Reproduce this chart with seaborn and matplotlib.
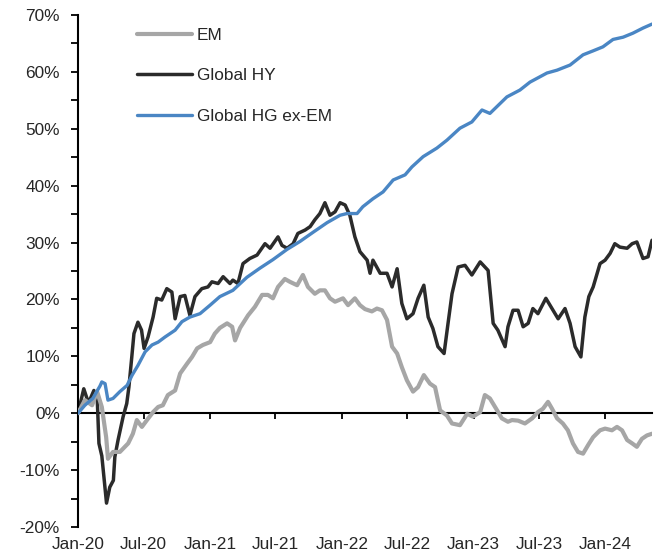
import matplotlib
matplotlib.use('Agg')
import matplotlib.pyplot as plt
import matplotlib.dates as mdates
from matplotlib.ticker import MultipleLocator, FuncFormatter
import seaborn as sns
import pandas as pd

# cumulative returns, in %
em_dates = ['2020-01-01', '2020-01-20', '2020-02-09', '2020-02-23', '2020-03-07', '2020-03-19', '2020-03-24',
            '2020-04-07', '2020-04-26', '2020-05-19', '2020-06-01', '2020-06-12', '2020-06-26', '2020-07-10',
            '2020-07-27', '2020-08-10', '2020-08-23', '2020-09-06', '2020-09-26', '2020-10-10', '2020-10-29',
            '2020-11-12', '2020-11-26', '2020-12-12', '2021-01-01', '2021-01-14', '2021-01-28', '2021-02-17',
            '2021-03-03', '2021-03-11', '2021-03-25', '2021-04-16', '2021-05-05', '2021-05-25', '2021-06-10',
            '2021-06-24', '2021-07-08', '2021-07-27', '2021-08-10', '2021-08-30', '2021-09-15', '2021-09-29',
            '2021-10-18', '2021-11-01', '2021-11-15', '2021-11-29', '2021-12-13', '2022-01-04', '2022-01-18',
            '2022-02-06', '2022-02-20', '2022-03-06', '2022-03-25', '2022-04-08', '2022-04-22', '2022-05-06',
            '2022-05-20', '2022-06-03', '2022-06-16', '2022-06-30', '2022-07-17', '2022-07-31', '2022-08-16',
            '2022-09-02', '2022-09-16', '2022-09-30', '2022-10-19', '2022-11-02', '2022-11-24', '2022-12-14',
            '2022-12-30', '2023-01-19', '2023-02-01', '2023-02-15', '2023-03-07', '2023-03-20', '2023-04-06',
            '2023-04-17', '2023-05-04', '2023-05-23', '2023-06-12', '2023-06-28', '2023-07-12', '2023-07-26',
            '2023-08-06', '2023-08-20', '2023-09-05', '2023-09-19', '2023-10-03', '2023-10-17', '2023-10-31',
            '2023-11-14', '2023-11-28', '2023-12-17', '2023-12-31', '2024-01-19', '2024-02-02', '2024-02-16',
            '2024-03-01', '2024-03-15', '2024-03-28', '2024-04-11', '2024-04-25', '2024-05-09']
em_values = [0, 2.3, 1.4, 3.8, 1.1, -4.2, -8, -6.8, -6.8, -5.3, -3.6, -1.2, -2.4, -1.2,
             0.2, 1.1, 1.4, 3.2, 4.0, 7, 8.7, 9.9, 11.4, 12, 12.5, 14, 15, 15.8,
             15.2, 12.8, 15.0, 17.2, 18.7, 20.8, 20.8, 20.2, 22.2, 23.6, 23.1, 22.5, 24.3, 22.2,
             21, 21.6, 21.6, 20.2, 19.6, 20.2, 19, 20.2, 19, 18.3, 17.9, 18.4, 18.1, 16.4,
             11.7, 10.5, 8.1, 5.8, 3.8, 4.6, 6.7, 5.2, 4.6, 0.5, -0.4, -1.8, -2.1, -0.1,
             -0.6, 0.2, 3.2, 2.6, 0.5, -0.9, -1.5, -1.2, -1.3, -1.8, -0.9, 0.2, 0.8, 2,
             0.8, -0.9, -1.8, -3, -5.3, -6.8, -7.1, -5.6, -4.2, -3, -2.7, -3, -2.4, -3,
             -4.7, -5.3, -5.9, -4.5, -3.9, -3.6]

hy_dates = ['2020-01-01', '2020-01-17', '2020-01-30', '2020-02-14', '2020-02-23', '2020-02-28', '2020-03-07',
            '2020-03-20', '2020-03-29', '2020-04-08', '2020-04-12', '2020-04-21', '2020-05-05', '2020-05-15',
            '2020-05-21', '2020-05-29', '2020-06-04', '2020-06-15', '2020-06-25', '2020-07-02', '2020-07-13',
            '2020-07-27', '2020-08-06', '2020-08-20', '2020-09-03', '2020-09-17', '2020-09-26', '2020-10-10',
            '2020-10-23', '2020-11-06', '2020-11-20', '2020-12-09', '2020-12-26', '2021-01-06', '2021-01-23',
            '2021-02-06', '2021-02-25', '2021-03-05', '2021-03-19', '2021-04-02', '2021-04-21', '2021-05-11',
            '2021-06-02', '2021-06-16', '2021-07-08', '2021-07-19', '2021-08-02', '2021-08-19', '2021-09-01',
            '2021-09-21', '2021-10-05', '2021-10-18', '2021-11-01', '2021-11-15', '2021-11-29', '2021-12-13',
            '2021-12-27', '2022-01-10', '2022-01-23', '2022-02-06', '2022-02-20', '2022-03-12', '2022-03-20',
            '2022-03-28', '2022-04-17', '2022-05-06', '2022-05-20', '2022-06-03', '2022-06-16', '2022-06-30',
            '2022-07-17', '2022-07-31', '2022-08-16', '2022-08-28', '2022-09-10', '2022-09-24', '2022-10-11',
            '2022-10-22', '2022-11-02', '2022-11-19', '2022-12-08', '2022-12-27', '2023-01-19', '2023-02-10',
            '2023-02-24', '2023-03-09', '2023-03-29', '2023-04-06', '2023-04-20', '2023-05-04', '2023-05-18',
            '2023-06-01', '2023-06-14', '2023-06-28', '2023-07-20', '2023-08-06', '2023-08-23', '2023-09-11',
            '2023-09-25', '2023-10-09', '2023-10-25', '2023-11-05', '2023-11-16', '2023-11-28', '2023-12-17',
            '2023-12-31', '2024-01-14', '2024-01-27', '2024-02-10', '2024-03-01', '2024-03-15', '2024-03-28',
            '2024-04-14', '2024-04-28', '2024-05-09']
hy_values = [0, 4.3, 1.8, 4.0, 3.0, -5.3, -7.5, -15.8, -13, -11.8, -7.7, -4.7, -0.6, 1.7,
             4.6, 9.9, 14, 16, 14.6, 11.4, 13.4, 16.9, 20.2, 19.9, 21.9, 21.3, 16.6, 20.5,
             20.7, 17.2, 20.5, 21.9, 22.2, 23.1, 22.8, 24, 22.8, 23.4, 22.8, 26.3, 27.2, 27.8,
             29.8, 29, 31, 29.5, 29, 29.8, 31.6, 32.2, 32.8, 34, 35.1, 37, 34.8, 35.4,
             37, 36.6, 34.8, 31, 28.4, 26.9, 24.6, 26.9, 24.6, 24.6, 22.2, 25.4, 19.3, 16.6,
             17.5, 20.2, 22.5, 16.9, 14.9, 11.7, 10.5, 15.8, 21, 25.7, 26, 24.3, 26.6, 25.1,
             15.8, 14.6, 11.7, 15.2, 18.1, 18.1, 15.2, 15.8, 18.4, 17.5, 20.2, 18.4, 16.6, 18.4,
             15.8, 11.7, 9.9, 16.9, 20.5, 22.2, 26.3, 26.9, 28.1, 29.8, 29.2, 29, 29.8, 30.1,
             27.2, 27.5, 30.4]

hg_dates = ['2020-01-01', '2020-01-20', '2020-02-11', '2020-03-02', '2020-03-07', '2020-03-16', '2020-03-24',
            '2020-04-07', '2020-04-26', '2020-05-16', '2020-05-30', '2020-06-15', '2020-07-05', '2020-07-24',
            '2020-08-10', '2020-08-29', '2020-09-26', '2020-10-15', '2020-11-06', '2020-12-04', '2021-01-01',
            '2021-01-28', '2021-03-05', '2021-04-13', '2021-05-19', '2021-06-24', '2021-08-02', '2021-09-07',
            '2021-10-13', '2021-11-21', '2021-12-27', '2022-01-15', '2022-02-12', '2022-02-28', '2022-03-28',
            '2022-04-25', '2022-05-23', '2022-06-25', '2022-07-14', '2022-08-14', '2022-09-21', '2022-10-19',
            '2022-11-24', '2022-12-27', '2023-01-24', '2023-02-15', '2023-04-03', '2023-05-09', '2023-06-06',
            '2023-07-23', '2023-08-20', '2023-09-25', '2023-10-31', '2023-11-28', '2023-12-25', '2024-01-22',
            '2024-02-19', '2024-03-17', '2024-04-14', '2024-05-09']
hg_values = [0, 1.4, 2.6, 4.8, 5.5, 5.2, 2.3, 2.6, 3.8, 4.9, 6.7, 8.4, 10.8, 12,
             12.5, 13.4, 14.6, 16.1, 16.9, 17.5, 19, 20.5, 21.6, 23.9, 25.5, 27, 28.8, 30.2,
             31.8, 33.5, 34.8, 35.1, 35.1, 36.3, 37.7, 38.9, 41, 41.9, 43.3, 45.1, 46.6, 48,
             50.1, 51.2, 53.3, 52.7, 55.6, 56.8, 58.2, 59.8, 60.3, 61.2, 63, 63.7, 64.4, 65.7,
             66.1, 66.8, 67.7, 68.4]

sns.set_style('white')
plt.rcParams['font.family'] = ['Liberation Sans', 'DejaVu Sans']
plt.rcParams['font.size'] = 12.4
plt.rcParams['lines.solid_joinstyle'] = 'round'
plt.rcParams['lines.solid_capstyle'] = 'round'

em = pd.DataFrame({'date': pd.to_datetime(em_dates), 'value': em_values})
hy = pd.DataFrame({'date': pd.to_datetime(hy_dates), 'value': hy_values})
hg = pd.DataFrame({'date': pd.to_datetime(hg_dates), 'value': hg_values})

fig = plt.figure(figsize=(6.61, 5.59), dpi=100)
ax = fig.add_axes([0.118, 0.0572, 0.8684, 0.916])

sns.lineplot(data=em, x='date', y='value', color='#a6a6a6', linewidth=3.0, label='EM', ax=ax, zorder=3)
sns.lineplot(data=hy, x='date', y='value', color='#2b2b2b', linewidth=2.5, label='Global HY', ax=ax, zorder=2)
sns.lineplot(data=hg, x='date', y='value', color='#4a86c4', linewidth=2.4, label='Global HG ex-EM', ax=ax, zorder=4)

ax.set_xlim(pd.Timestamp('2020-01-01'), pd.Timestamp('2024-05-09'))
ax.set_ylim(-20, 70)
ax.set_xlabel('')
ax.set_ylabel('')

for s in ['top', 'right', 'bottom']:
    ax.spines[s].set_visible(False)
ax.spines['left'].set_color('black')
ax.spines['left'].set_linewidth(1.5)

ax.yaxis.set_major_locator(MultipleLocator(10))
ax.yaxis.set_minor_locator(MultipleLocator(5))
ax.yaxis.set_major_formatter(FuncFormatter(lambda v, p: f'{v:.0f}%'))
ax.tick_params(axis='y', which='both', direction='out', length=5, width=1.3, color='black', left=True, pad=8)

ax.xaxis.set_major_locator(mdates.MonthLocator(bymonth=[1, 7]))
ax.xaxis.set_major_formatter(mdates.DateFormatter('%b-%y'))
ax.tick_params(axis='x', which='both', length=0, pad=7)

# zero line carries the date ticks
zero = ax.secondary_xaxis(2 / 9)
zero.xaxis.set_major_locator(mdates.MonthLocator(bymonth=[1, 7]))
zero.tick_params(axis='x', direction='out', length=4.5, width=1.3, color='black', labelbottom=False)
zero.spines['bottom'].set_linewidth(1.5)
zero.spines['bottom'].set_color('black')

ax.legend(loc='upper left', bbox_to_anchor=(0.103, 0.975), frameon=False, borderpad=0,
          borderaxespad=0, handlelength=3.2, handletextpad=0.25, labelspacing=1.48)

fig.savefig('out.png', dpi=100)
